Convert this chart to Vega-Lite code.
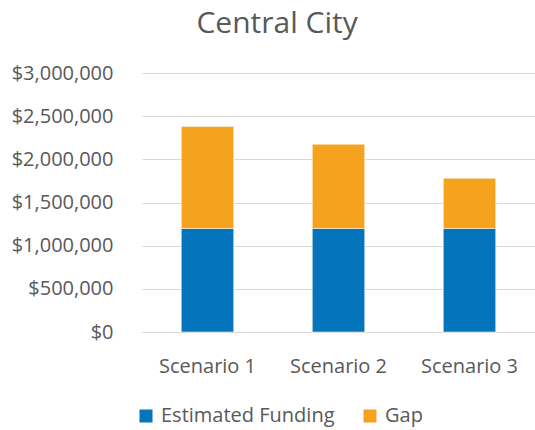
{
  "$schema": "https://vega.github.io/schema/vega-lite/v6.json",
  "width": 393,
  "height": 259,
  "padding": {"left": 11, "top": 9, "right": 0, "bottom": 5},
  "background": "white",
  "title": {"text": "Central City", "fontSize": 30, "font": "Open Sans", "fontWeight": "normal", "color": "#595959", "anchor": "middle", "frame": "bounds", "offset": 24, "dx": 4},
  "data": {"values": [
    {"scenario": "Scenario 1", "series": "Estimated Funding", "order": 1, "value": 1200000},
    {"scenario": "Scenario 1", "series": "Gap", "order": 2, "value": 1180000},
    {"scenario": "Scenario 2", "series": "Estimated Funding", "order": 1, "value": 1200000},
    {"scenario": "Scenario 2", "series": "Gap", "order": 2, "value": 975000},
    {"scenario": "Scenario 3", "series": "Estimated Funding", "order": 1, "value": 1200000},
    {"scenario": "Scenario 3", "series": "Gap", "order": 2, "value": 580000}
  ]},
  "mark": {"type": "bar", "stroke": "white", "strokeWidth": 0.5},
  "encoding": {
    "x": {"field": "scenario", "type": "nominal", "title": null,
      "scale": {"paddingInner": 0.6, "paddingOuter": 0.3},
      "axis": {"labelAngle": 0, "ticks": false, "domainColor": "#D9D9D9", "labelPadding": 24, "labelFontSize": 20}},
    "y": {"field": "value", "type": "quantitative", "title": null, "stack": "zero",
      "scale": {"domain": [0, 3000000]},
      "axis": {"values": [0, 500000, 1000000, 1500000, 2000000, 2500000, 3000000], "format": "$,.0f", "ticks": false, "domain": false, "labelPadding": 29, "labelFontSize": 20, "gridColor": "#D9D9D9"}},
    "color": {"field": "series", "type": "nominal", "title": null,
      "scale": {"domain": ["Estimated Funding", "Gap"], "range": ["#0474BC", "#F5A31E"]},
      "legend": {"orient": "none", "direction": "horizontal", "legendX": -6, "legendY": 333, "symbolType": "square", "symbolSize": 169, "labelFontSize": 20, "labelOffset": 5, "labelLimit": 300, "columnPadding": 25, "symbolStrokeWidth": 0}},
    "order": {"field": "order", "type": "quantitative"}
  },
  "config": {
    "font": "Open Sans",
    "view": {"stroke": null},
    "axis": {"labelColor": "#595959", "labelFont": "Open Sans", "grid": true},
    "axisX": {"grid": false},
    "legend": {"labelColor": "#595959", "labelFont": "Open Sans"}
  }
}
